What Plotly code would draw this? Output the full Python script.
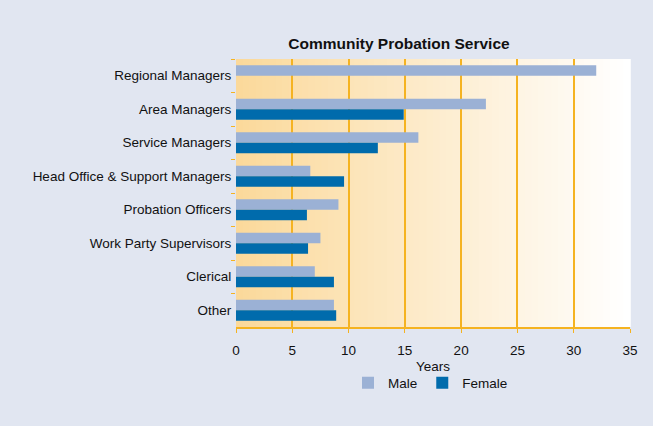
import plotly.graph_objects as go

categories = ["Regional Managers", "Area Managers", "Service Managers",
              "Head Office & Support Managers", "Probation Officers",
              "Work Party Supervisors", "Clerical", "Other"]
male = [32.0, 22.2, 16.2, 6.6, 9.1, 7.5, 7.0, 8.7]
female = [None, 14.9, 12.6, 9.6, 6.3, 6.4, 8.7, 8.9]
x_ticks = [0, 5, 10, 15, 20, 25, 30, 35]
x_title = "Years"

FONT = "Liberation Sans, Arial, sans-serif"
ORANGE = "#F5B321"

fig = go.Figure()
fig.add_trace(go.Bar(y=categories, x=male, orientation="h", name="Male",
                     marker=dict(color="#9BB1D5", line=dict(width=0))))
fig.add_trace(go.Bar(y=categories, x=female, orientation="h", name="Female",
                     marker=dict(color="#006BAC", line=dict(width=0))))

# horizontal gradient background (light orange -> white)
n = 60
c0 = (251, 217, 155)
c1 = (255, 255, 255)
shapes = []
for i in range(n):
    t = i / (n - 1)
    col = tuple(round(c0[k] + (c1[k] - c0[k]) * t) for k in range(3))
    shapes.append(dict(type="rect", xref="x domain", yref="y domain",
                       x0=i / n, x1=(i + 1) / n + 0.002, y0=0, y1=1,
                       fillcolor="rgb(%d,%d,%d)" % col, line=dict(width=0),
                       layer="below"))

fig.update_layout(
    width=653, height=426,
    paper_bgcolor="#E1E6F1", plot_bgcolor="rgba(0,0,0,0)",
    margin=dict(l=236, r=23, t=59, b=99, autoexpand=False),
    font=dict(family=FONT, size=13.5, color="#111111"),
    barmode="group", bargap=0.38, bargroupgap=0,
    shapes=shapes,
    title=dict(text="<b>Community Probation Service</b>", x=0.611, xref="container",
               xanchor="center", y=1 - 44 / 426, yref="container", yanchor="middle",
               font=dict(size=15.5, family=FONT, color="#111111")),
    legend=dict(orientation="h", x=348 / 653, xref="container", xanchor="left",
                y=1 - 383 / 426, yref="container", yanchor="middle",
                font=dict(size=13.5), bgcolor="rgba(0,0,0,0)", itemwidth=30,
                traceorder="normal"),
    showlegend=True,
    annotations=[dict(text=x_title, x=0.5, xref="paper", xanchor="center",
                      y=-39 / 268, yref="paper", yanchor="middle",
                      showarrow=False, font=dict(size=13.5))],
)
fig.update_xaxes(range=[0, 35], tickvals=x_ticks, showgrid=True, gridcolor=ORANGE,
                 gridwidth=1.5, zeroline=False, showline=True, linecolor=ORANGE,
                 linewidth=1.5, ticks="outside", tickcolor=ORANGE, ticklen=4,
                 automargin=False, ticklabelstandoff=6,
                 layer="below traces")
fig.update_yaxes(autorange="reversed", tickson="boundaries", ticks="outside",
                 tickcolor=ORANGE, ticklen=4, showgrid=False, showline=False,
                 zeroline=False, ticksuffix=" ", automargin=False)

fig.write_html("out.html", config={"displayModeBar": False},
               post_script="document.body.style.margin='0';document.body.style.overflow='hidden';")
